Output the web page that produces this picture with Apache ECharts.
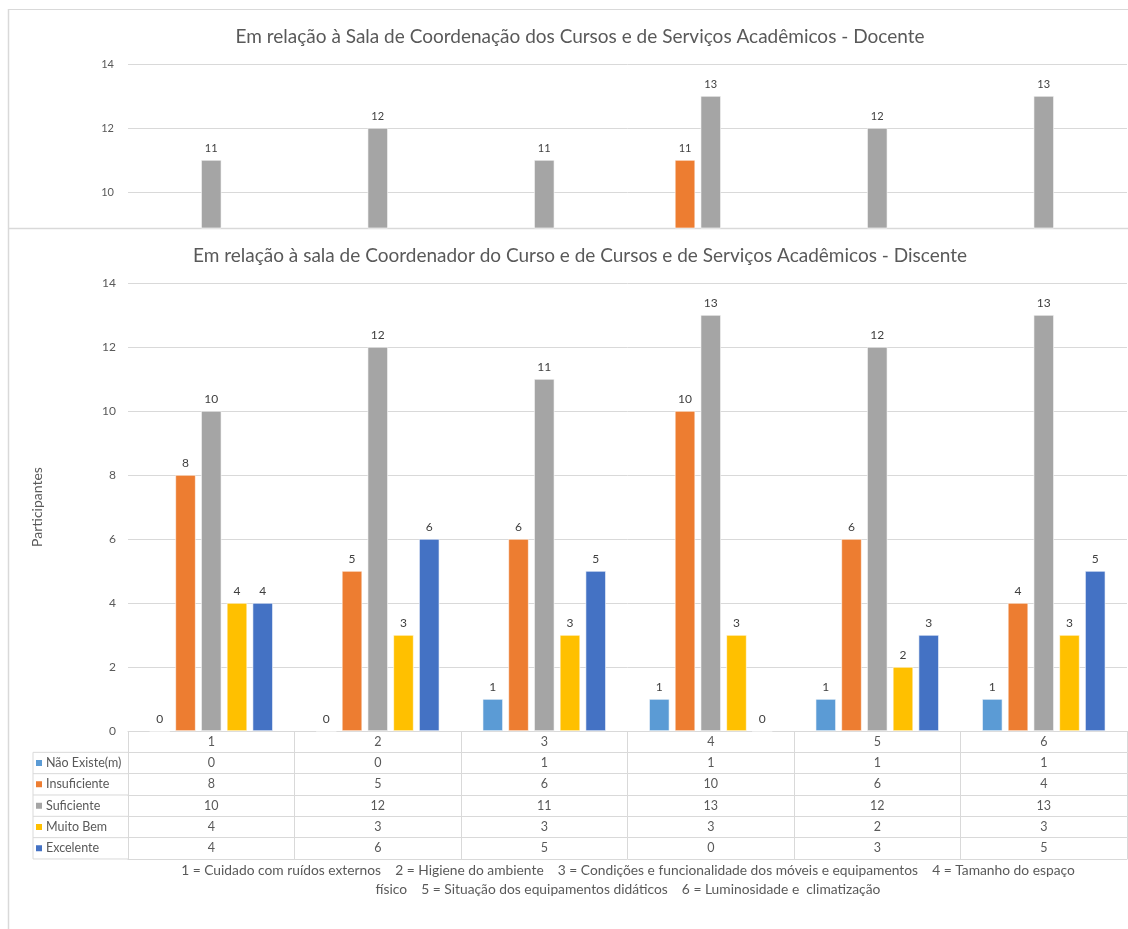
<!DOCTYPE html>
<html><head><meta charset="utf-8">
<script src="https://cdn.jsdelivr.net/npm/echarts@6/dist/echarts.min.js"></script>
<style>html,body{margin:0;padding:0;background:#fff}#c{width:1128px;height:929px}</style>
</head><body><div id="c"></div><script>
// ---- data ----
const categories = ['1', '2', '3', '4', '5', '6'];
const seriesNames = ['Não Existe(m)', 'Insuficiente', 'Suficiente', 'Muito Bem', 'Excelente'];
// Discente (main chart)
const naoExiste = [0, 0, 1, 1, 1, 1];
const insuficiente = [8, 5, 6, 10, 6, 4];
const suficiente = [10, 12, 11, 13, 12, 13];
const muitoBem = [4, 3, 3, 3, 2, 3];
const excelente = [4, 6, 5, 0, 3, 5];
// Docente (cropped panel on top: only values above the visible range are known)
const docNaoExiste = [null, null, null, null, null, null];
const docInsuficiente = [null, null, null, 11, null, null];
const docSuficiente = [11, 12, 11, 13, 12, 13];
const docMuitoBem = [null, null, null, null, null, null];
const docExcelente = [null, null, null, null, null, null];
const titleDocente = 'Em relação à Sala de Coordenação dos Cursos e de Serviços Acadêmicos - Docente';
const titleDiscente = 'Em relação à sala de Coordenador do Curso e de Cursos e de Serviços Acadêmicos - Discente';
const yAxisName = 'Participantes';
const footnote1 = '1 = Cuidado com ruídos externos    2 = Higiene do ambiente    3 = Condições e funcionalidade dos móveis e equipamentos    4 = Tamanho do espaço';
const footnote2 = 'físico    5 = Situação dos equipamentos didáticos    6 = Luminosidade e  climatização';

// ---- layout / style ----
const FONT = 'Lato';
const textColor = '#595959';
const lineColor = '#d9d9d9';
const colors = ['#5b9bd5', '#ed7d31', '#a5a5a5', '#ffc000', '#4472c4'];
const gridLeft = 128, gridRightX = 1127;
const plotTop = 283, plotBottom = 731;
const rowH = 21.33;
const H = 929, W = 1128;

const discente = [naoExiste, insuficiente, suficiente, muitoBem, excelente];
const docente = [docNaoExiste, docInsuficiente, docSuficiente, docMuitoBem, docExcelente];

const chart = echarts.init(document.getElementById('c'));

const lineStyle = { color: lineColor, width: 1 };
const tableFont = 12.5;
const xAxes = [
  { gridIndex: 0, type: 'category', data: categories, show: false },
  { gridIndex: 1, type: 'category', data: categories, position: 'bottom',
    axisLine: { lineStyle }, axisTick: { show: true, interval: 0, length: rowH, lineStyle },
    axisLabel: { interval: 0, color: textColor, fontSize: tableFont, fontFamily: FONT, margin: 4 } }
];
discente.forEach((vals, k) => {
  xAxes.push({ gridIndex: 1, type: 'category', data: categories, position: 'bottom', offset: rowH * (k + 1),
    axisLine: { lineStyle }, axisTick: { show: true, interval: 0, length: rowH, lineStyle },
    axisLabel: { interval: 0, color: textColor, fontSize: tableFont, fontFamily: FONT, margin: 4,
      formatter: (v, i) => String(vals[i]) } });
});
xAxes.push({ gridIndex: 1, type: 'category', data: categories, position: 'bottom', offset: rowH * 6,
  axisLine: { lineStyle }, axisTick: { show: false }, axisLabel: { show: false } });

const series = [];
const labelCommon = { show: true, position: 'top', distance: 6, color: '#404040', fontFamily: FONT };
docente.forEach((vals, k) => series.push({
  name: seriesNames[k], type: 'bar', xAxisIndex: 0, yAxisIndex: 0, data: vals,
  barGap: '27%', barCategoryGap: '26%',
  itemStyle: { color: colors[k], borderColor: '#fff', borderWidth: 0.6 },
  label: Object.assign({}, labelCommon, { fontSize: 11 })
}));
discente.forEach((vals, k) => series.push({
  name: seriesNames[k], type: 'bar', xAxisIndex: 1, yAxisIndex: 1, data: vals,
  barGap: '27%', barCategoryGap: '26%',
  itemStyle: { color: colors[k], borderColor: '#fff', borderWidth: 0.6 },
  label: Object.assign({}, labelCommon, { fontSize: 12 })
}));

// left column of the data table + frame
const graphics = [];
const tableTop = plotBottom + rowH;
for (let k = 0; k <= 5; k++) {
  graphics.push({ type: 'line', silent: true, shape: { x1: 33, y1: tableTop + rowH * k, x2: gridLeft, y2: tableTop + rowH * k }, style: { stroke: lineColor, lineWidth: 1 } });
}
graphics.push({ type: 'line', silent: true, shape: { x1: 33, y1: tableTop, x2: 33, y2: tableTop + rowH * 5 }, style: { stroke: lineColor, lineWidth: 1 } });
graphics.push({ type: 'line', silent: true, shape: { x1: 8, y1: 9.5, x2: W, y2: 9.5 }, style: { stroke: lineColor, lineWidth: 1 } });
graphics.push({ type: 'line', silent: true, shape: { x1: 8.5, y1: 9, x2: 8.5, y2: H }, style: { stroke: lineColor, lineWidth: 1.5 } });
graphics.push({ type: 'line', silent: true, shape: { x1: 8, y1: 228.5, x2: W, y2: 228.5 }, style: { stroke: lineColor, lineWidth: 1.5 } });
graphics.push({ type: 'text', silent: true, x: 628, y: 871, style: { text: footnote1, fill: textColor, font: '13.8px ' + FONT, textAlign: 'center', textVerticalAlign: 'middle' } });
graphics.push({ type: 'text', silent: true, x: 628, y: 890, style: { text: footnote2, fill: textColor, font: '13.8px ' + FONT, textAlign: 'center', textVerticalAlign: 'middle' } });

// one legend per table row so each sits in its row
const legends = seriesNames.map((name, k) => ({
  data: [name], orient: 'vertical', left: 34, top: tableTop + rowH * k + rowH / 2 - 8,
  itemWidth: 8, itemHeight: 8, itemGap: 0, icon: 'rect', itemGap: 3,
  padding: 0, selectedMode: false,
  textStyle: { color: textColor, fontSize: 12.5, fontFamily: FONT, lineHeight: 16, padding: [0, 0, 0, -2] }
}));

const option = {
  backgroundColor: '#fff',
  animation: false,
  color: colors,
  textStyle: { fontFamily: FONT },
  title: [
    { text: titleDocente, left: 575, top: 22, textAlign: 'center',
      textStyle: { fontFamily: FONT, fontSize: 19, fontWeight: 'normal', color: textColor } },
    { text: titleDiscente, left: 575, top: 241, textAlign: 'center',
      textStyle: { fontFamily: FONT, fontSize: 19, fontWeight: 'normal', color: textColor } }
  ],
  legend: legends,
  grid: [
    { left: gridLeft, right: W - gridRightX, top: 64, height: 164, containLabel: false },
    { left: gridLeft, right: W - gridRightX, top: plotTop, height: plotBottom - plotTop, containLabel: false }
  ],
  xAxis: xAxes,
  yAxis: [
    { gridIndex: 0, type: 'value', min: 8.875, max: 14, splitNumber: 3,
      axisLine: { show: false }, axisTick: { show: false },
      axisLabel: { showMinLabel: false, color: textColor, fontSize: 11, fontFamily: FONT, margin: 14 },
      splitLine: { lineStyle } },
    { gridIndex: 1, type: 'value', min: 0, max: 14, interval: 2,
      name: yAxisName, nameLocation: 'middle', nameGap: 84, nameRotate: 90,
      nameTextStyle: { color: textColor, fontSize: 14, fontFamily: FONT },
      axisLine: { show: false }, axisTick: { show: false },
      axisLabel: { color: textColor, fontSize: 12, fontFamily: FONT, margin: 12 },
      splitLine: { lineStyle } }
  ],
  series,
  graphic: graphics
};
chart.setOption(option);
</script></body></html>
